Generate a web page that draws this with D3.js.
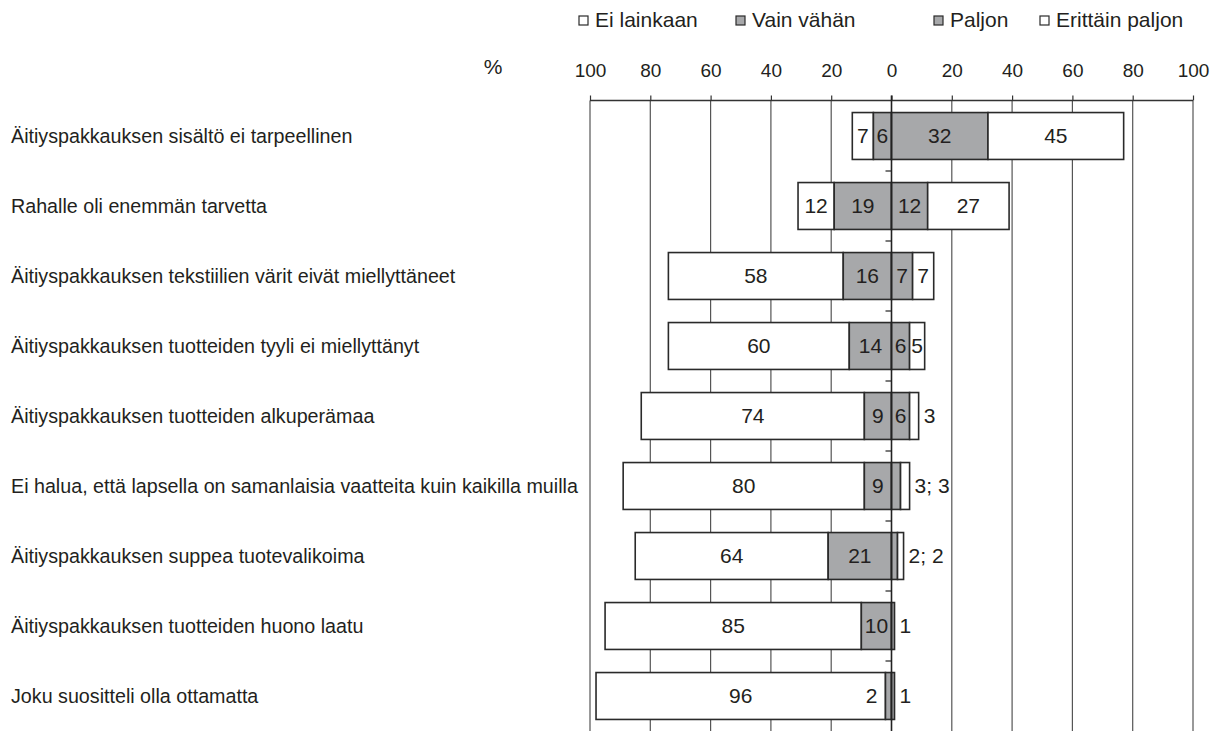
<!DOCTYPE html>
<html>
<head>
<meta charset="utf-8">
<script src="https://cdn.jsdelivr.net/npm/d3@7"></script>
<style>
  html, body { margin: 0; padding: 0; background: #fff; }
  svg { display: block; font-family: "Liberation Sans", Arial, sans-serif; }
</style>
</head>
<body>
<svg id="chart" width="1220" height="731"></svg>
<script>
// ---- data ----
const categories = [
  "Äitiyspakkauksen sisältö ei tarpeellinen",
  "Rahalle oli enemmän tarvetta",
  "Äitiyspakkauksen tekstiilien värit eivät miellyttäneet",
  "Äitiyspakkauksen tuotteiden tyyli ei miellyttänyt",
  "Äitiyspakkauksen tuotteiden alkuperämaa",
  "Ei halua, että lapsella on samanlaisia vaatteita kuin kaikilla muilla",
  "Äitiyspakkauksen suppea tuotevalikoima",
  "Äitiyspakkauksen tuotteiden huono laatu",
  "Joku suositteli olla ottamatta"
];
const eiLainkaan     = [7, 12, 58, 60, 74, 80, 64, 85, 96];
const vainVahan      = [6, 19, 16, 14, 9, 9, 21, 10, 2];
const paljon         = [32, 12, 7, 6, 6, 3, 2, 1, 1];
const erittainPaljon = [45, 27, 7, 5, 3, 3, 2, 0, 0];
const seriesNames = ["Ei lainkaan", "Vain vähän", "Paljon", "Erittäin paljon"];
const tickValues = [-100, -80, -60, -40, -20, 0, 20, 40, 60, 80, 100];

// ---- styles ----
const GRAY = "#a7a8aa", WHITE = "#ffffff", STROKE = "#2a2a2a", TEXT = "#231f20";
const fills = [WHITE, GRAY, GRAY, WHITE];

const svg = d3.select("#chart");
const x = d3.scaleLinear().domain([-100, 100]).range([590, 1193]);
const y = d3.scaleBand().domain(categories).range([101, 731])
  .paddingInner(0.33).paddingOuter(0.165);
const axisY = 100.5;

// gridlines
svg.append("g").selectAll("line")
  .data(tickValues.filter(d => d !== 0))
  .join("line")
  .attr("x1", d => x(d)).attr("x2", d => x(d))
  .attr("y1", axisY).attr("y2", 731)
  .attr("stroke", "#555").attr("stroke-width", 1.2);

// top axis
const axis = d3.axisTop(x).tickValues(tickValues)
  .tickFormat(d => Math.abs(d)).tickSize(5).tickPadding(18.5);
const gAxis = svg.append("g").attr("transform", `translate(0,${axisY})`).call(axis);
gAxis.select(".domain").attr("stroke", "#333").attr("stroke-width", 1.6).attr("d", `M${x(-100)},0H${x(100)}`);
gAxis.selectAll(".tick line").attr("stroke", "#333").attr("stroke-width", 1.2);
gAxis.selectAll(".tick text").attr("fill", TEXT).attr("font-size", 19)
  .attr("font-family", "Liberation Sans, Arial, sans-serif");

svg.append("text").attr("x", 493).attr("y", 74).attr("text-anchor", "middle")
  .attr("font-size", 21).attr("fill", TEXT).text("%");

// stacked segments
const rows = categories.map((c, i) => {
  const v = [eiLainkaan[i], vainVahan[i], paljon[i], erittainPaljon[i]];
  const segs = [
    { k: 0, v: v[0], x0: -(v[0] + v[1]), x1: -v[1] },
    { k: 1, v: v[1], x0: -v[1], x1: 0 },
    { k: 2, v: v[2], x0: 0, x1: v[2] },
    { k: 3, v: v[3], x0: v[2], x1: v[2] + v[3] }
  ];
  return { c, v, segs };
});

const LBL = 21;
const gBars = svg.append("g");
rows.forEach(r => {
  const g = gBars.append("g");
  g.selectAll("rect").data(r.segs.filter(s => s.v > 0)).join("rect")
    .attr("x", s => x(s.x0)).attr("width", s => x(s.x1) - x(s.x0))
    .attr("y", y(r.c)).attr("height", y.bandwidth())
    .attr("fill", s => fills[s.k]).attr("stroke", STROKE).attr("stroke-width", 1.6);

  const cy = y(r.c) + y.bandwidth() / 2;
  // inside labels
  g.selectAll("text.in").data(r.segs.filter(s => s.v >= 4)).join("text")
    .attr("class", "in")
    .attr("x", s => (x(s.x0) + x(s.x1)) / 2).attr("y", cy)
    .attr("dy", "0.35em").attr("text-anchor", "middle")
    .attr("font-size", LBL).attr("fill", TEXT).text(s => s.v);
  // narrow left labels
  r.segs.filter(s => s.k < 2 && s.v > 0 && s.v < 4).forEach(s => {
    g.append("text").attr("x", x(s.x0) - 8).attr("y", cy).attr("dy", "0.35em")
      .attr("text-anchor", "end").attr("font-size", LBL).attr("fill", TEXT).text(s.v);
  });
  // narrow right labels (combined)
  const narrowR = r.segs.filter(s => s.k >= 2 && s.v > 0 && s.v < 4);
  if (narrowR.length) {
    const end = r.v[2] + r.v[3];
    g.append("text").attr("x", x(end) + 5).attr("y", cy).attr("dy", "0.35em")
      .attr("text-anchor", "start").attr("font-size", LBL).attr("fill", TEXT)
      .text(narrowR.map(s => s.v).join("; "));
  }
});

// zero line with boundary ticks
svg.append("line").attr("x1", x(0)).attr("x2", x(0)).attr("y1", axisY - 5).attr("y2", 731)
  .attr("stroke", "#222").attr("stroke-width", 1.6);
const bounds = categories.slice(1).map(c => y(c) - y.step() * y.paddingInner() / 2);
svg.append("g").selectAll("line").data(bounds).join("line")
  .attr("x1", x(0) - 6).attr("x2", x(0)).attr("y1", d => d).attr("y2", d => d)
  .attr("stroke", "#222").attr("stroke-width", 1.2);

// category labels
svg.append("g").selectAll("text").data(categories).join("text")
  .attr("x", 11).attr("y", d => y(d) + y.bandwidth() / 2).attr("dy", "0.35em")
  .attr("font-size", 19.7).attr("fill", TEXT).text(d => d);

// legend
const legendX = [579, 736, 934, 1040];
const lg = svg.append("g");
seriesNames.forEach((n, i) => {
  lg.append("rect").attr("x", legendX[i]).attr("y", 16).attr("width", 9).attr("height", 9)
    .attr("fill", fills[i]).attr("stroke", STROKE).attr("stroke-width", 1.2);
  lg.append("text").attr("x", legendX[i] + 16).attr("y", 27)
    .attr("font-size", 21).attr("fill", TEXT).text(n);
});
</script>
</body>
</html>
